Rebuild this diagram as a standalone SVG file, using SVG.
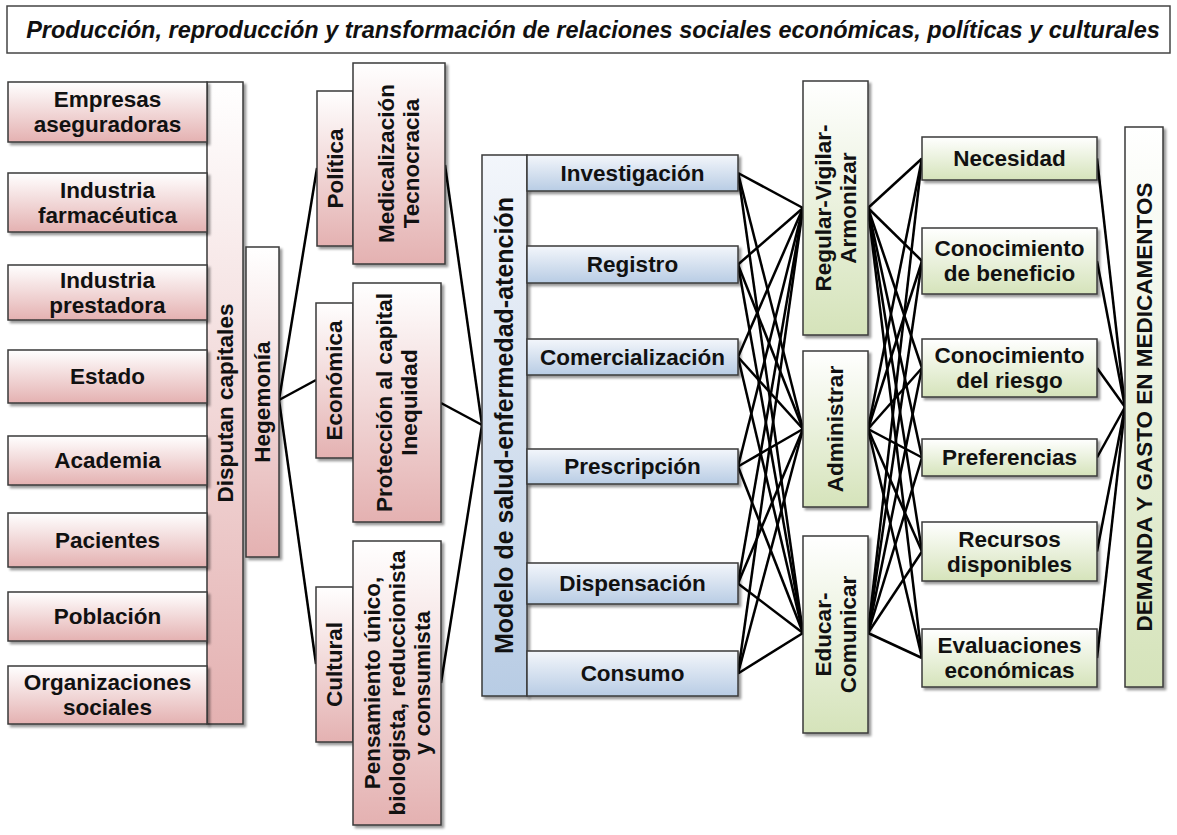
<svg xmlns="http://www.w3.org/2000/svg" width="1177" height="835" viewBox="0 0 1177 835">
  <defs>
    <linearGradient id="gPink" x1="0" y1="0" x2="0" y2="1">
      <stop offset="0" stop-color="#ffffff"/>
      <stop offset="1" stop-color="#e4b1b1"/>
    </linearGradient>
    <linearGradient id="gBlue" x1="0" y1="0" x2="0" y2="1">
      <stop offset="0" stop-color="#f3f6fb"/>
      <stop offset="1" stop-color="#b8cce4"/>
    </linearGradient>
    <linearGradient id="gGreen" x1="0" y1="0" x2="0" y2="1">
      <stop offset="0" stop-color="#ffffff"/>
      <stop offset="1" stop-color="#d5e3ba"/>
    </linearGradient>
    <filter id="shadow" x="-10%" y="-10%" width="130%" height="130%">
      <feDropShadow dx="2.5" dy="2.5" stdDeviation="1.2" flood-color="#000" flood-opacity="0.4"/>
    </filter>
  </defs>
  <style>
    .box { stroke: #3a3a3a; stroke-width: 1.5; filter: url(#shadow); }
    .pink { fill: url(#gPink); }
    .blue { fill: url(#gBlue); }
    .green { fill: url(#gGreen); }
    .lbl { font-family: "Liberation Sans", Arial, sans-serif; font-weight: bold; font-size: 22.5px; fill: #111; text-anchor: middle; }
    .big { font-size: 25px; }
    .title { font-family: "Liberation Sans", Arial, sans-serif; font-weight: bold; font-style: italic; font-size: 23.5px; fill: #111; text-anchor: middle; }
    .conn line { stroke: #000; stroke-width: 2.5; }
  </style>

  <rect width="1177" height="835" fill="#ffffff"/>

  <!-- title bar -->
  <g id="title">
    <rect x="7" y="6" width="1163" height="47" fill="#ffffff" stroke="#444" stroke-width="1.5"/>
    <text class="title" x="593" y="38">Producción, reproducción y transformación de relaciones sociales económicas, políticas y culturales</text>
  </g>

  <!-- connectors -->
  <g id="connectors" class="conn">
    <!-- Hegemonía to the three dimensions -->
    <line x1="279" y1="400" x2="317" y2="168"/>
    <line x1="279" y1="400" x2="316" y2="380"/>
    <line x1="279" y1="400" x2="316" y2="664"/>
    <!-- dimensions to the health model -->
    <line x1="445" y1="165" x2="482" y2="425"/>
    <line x1="441" y1="403" x2="482" y2="425"/>
    <line x1="441" y1="683" x2="482" y2="425"/>
    <!-- stages to Regular-Vigilar-Armonizar -->
    <line x1="738" y1="173" x2="803" y2="208"/>
    <line x1="738" y1="264.5" x2="803" y2="208"/>
    <line x1="738" y1="357" x2="803" y2="208"/>
    <line x1="738" y1="466.5" x2="803" y2="208"/>
    <line x1="738" y1="583.5" x2="803" y2="208"/>
    <line x1="738" y1="673.5" x2="803" y2="208"/>
    <!-- stages to Administrar -->
    <line x1="738" y1="173" x2="803" y2="429"/>
    <line x1="738" y1="264.5" x2="803" y2="429"/>
    <line x1="738" y1="357" x2="803" y2="429"/>
    <line x1="738" y1="466.5" x2="803" y2="429"/>
    <line x1="738" y1="583.5" x2="803" y2="429"/>
    <line x1="738" y1="673.5" x2="803" y2="429"/>
    <!-- stages to Educar-Comunicar -->
    <line x1="738" y1="173" x2="803" y2="633"/>
    <line x1="738" y1="264.5" x2="803" y2="633"/>
    <line x1="738" y1="357" x2="803" y2="633"/>
    <line x1="738" y1="466.5" x2="803" y2="633"/>
    <line x1="738" y1="583.5" x2="803" y2="633"/>
    <line x1="738" y1="673.5" x2="803" y2="633"/>
    <!-- Regular-Vigilar-Armonizar to factors -->
    <line x1="868" y1="208" x2="922" y2="158.5"/>
    <line x1="868" y1="208" x2="922" y2="261"/>
    <line x1="868" y1="208" x2="922" y2="368"/>
    <line x1="868" y1="208" x2="922" y2="457.5"/>
    <line x1="868" y1="208" x2="922" y2="551.5"/>
    <line x1="868" y1="208" x2="922" y2="658"/>
    <!-- Administrar to factors -->
    <line x1="868" y1="429" x2="922" y2="158.5"/>
    <line x1="868" y1="429" x2="922" y2="261"/>
    <line x1="868" y1="429" x2="922" y2="368"/>
    <line x1="868" y1="429" x2="922" y2="457.5"/>
    <line x1="868" y1="429" x2="922" y2="551.5"/>
    <line x1="868" y1="429" x2="922" y2="658"/>
    <!-- Educar-Comunicar to factors -->
    <line x1="868" y1="633" x2="922" y2="158.5"/>
    <line x1="868" y1="633" x2="922" y2="261"/>
    <line x1="868" y1="633" x2="922" y2="368"/>
    <line x1="868" y1="633" x2="922" y2="457.5"/>
    <line x1="868" y1="633" x2="922" y2="551.5"/>
    <line x1="868" y1="633" x2="922" y2="658"/>
    <!-- factors to demand -->
    <line x1="1097" y1="158.5" x2="1125" y2="407"/>
    <line x1="1097" y1="261" x2="1125" y2="407"/>
    <line x1="1097" y1="368" x2="1125" y2="407"/>
    <line x1="1097" y1="457.5" x2="1125" y2="407"/>
    <line x1="1097" y1="551.5" x2="1125" y2="407"/>
    <line x1="1097" y1="658" x2="1125" y2="407"/>
  </g>

  <!-- actors -->
  <g id="disputan">
    <rect class="box pink" x="207" y="82" width="36" height="642"/>
    <text class="lbl" x="225" y="410.9" transform="rotate(-90 225 403)">Disputan capitales</text>
  </g>
  <g id="empresas">
    <rect class="box pink" x="8" y="82" width="199" height="60"/>
    <text class="lbl" x="107.5" y="107.4">Empresas<tspan x="107.5" dy="25">aseguradoras</tspan></text>
  </g>
  <g id="farmaceutica">
    <rect class="box pink" x="8" y="173" width="199" height="59"/>
    <text class="lbl" x="107.5" y="197.9">Industria<tspan x="107.5" dy="25">farmacéutica</tspan></text>
  </g>
  <g id="prestadora">
    <rect class="box pink" x="8" y="265" width="199" height="55"/>
    <text class="lbl" x="107.5" y="287.9">Industria<tspan x="107.5" dy="25">prestadora</tspan></text>
  </g>
  <g id="estado">
    <rect class="box pink" x="8" y="350" width="199" height="53"/>
    <text class="lbl" x="107.5" y="384.4">Estado</text>
  </g>
  <g id="academia">
    <rect class="box pink" x="8" y="436" width="199" height="49"/>
    <text class="lbl" x="107.5" y="468.4">Academia</text>
  </g>
  <g id="pacientes">
    <rect class="box pink" x="8" y="513" width="199" height="54"/>
    <text class="lbl" x="107.5" y="547.9">Pacientes</text>
  </g>
  <g id="poblacion">
    <rect class="box pink" x="8" y="592" width="199" height="49"/>
    <text class="lbl" x="107.5" y="624.4">Población</text>
  </g>
  <g id="organizaciones">
    <rect class="box pink" x="8" y="666" width="199" height="58"/>
    <text class="lbl" x="107.5" y="690.4">Organizaciones<tspan x="107.5" dy="25">sociales</tspan></text>
  </g>
  <g id="hegemonia">
    <rect class="box pink" x="246" y="247" width="33" height="310"/>
    <text class="lbl" x="262.5" y="409.9" transform="rotate(-90 262.5 402)">Hegemonía</text>
  </g>

  <!-- dimensions of hegemony -->
  <g id="politica">
    <rect class="box pink" x="317" y="91" width="36" height="155"/>
    <text class="lbl" x="335" y="176.4" transform="rotate(-90 335 168.5)">Política</text>
  </g>
  <g id="medicalizacion">
    <rect class="box pink" x="353" y="63" width="92" height="201"/>
    <text class="lbl" x="399" y="158.9" transform="rotate(-90 399 163.5)"><tspan x="399">Medicalización</tspan><tspan x="399" dy="25">Tecnocracia</tspan></text>
  </g>
  <g id="economica">
    <rect class="box pink" x="316" y="303" width="37" height="155"/>
    <text class="lbl" x="334.5" y="388.4" transform="rotate(-90 334.5 380.5)">Económica</text>
  </g>
  <g id="proteccion">
    <rect class="box pink" x="353" y="283" width="88" height="239"/>
    <text class="lbl" x="397" y="397.9" transform="rotate(-90 397 402.5)"><tspan x="397">Protección al capital</tspan><tspan x="397" dy="25">Inequidad</tspan></text>
  </g>
  <g id="cultural">
    <rect class="box pink" x="316" y="587" width="37" height="155"/>
    <text class="lbl" x="334.5" y="672.4" transform="rotate(-90 334.5 664.5)">Cultural</text>
  </g>
  <g id="pensamiento">
    <rect class="box pink" x="353" y="541" width="88" height="284"/>
    <text class="lbl" x="397" y="665.9" transform="rotate(-90 397 683)"><tspan x="397">Pensamiento único,</tspan><tspan x="397" dy="25">biologista, reduccionista</tspan><tspan x="397" dy="25">y consumista</tspan></text>
  </g>

  <!-- health model and its stages -->
  <g id="modelo">
    <rect class="box blue" x="482" y="155" width="45" height="541"/>
    <text class="lbl big" x="504.5" y="434" transform="rotate(-90 504.5 425.5)">Modelo de salud-enfermedad-atención</text>
  </g>
  <g id="investigacion">
    <rect class="box blue" x="527" y="155" width="211" height="36"/>
    <text class="lbl" x="632.5" y="180.9">Investigación</text>
  </g>
  <g id="registro">
    <rect class="box blue" x="527" y="246" width="211" height="37"/>
    <text class="lbl" x="632.5" y="272.4">Registro</text>
  </g>
  <g id="comercializacion">
    <rect class="box blue" x="527" y="339" width="211" height="36"/>
    <text class="lbl" x="632.5" y="364.9">Comercialización</text>
  </g>
  <g id="prescripcion">
    <rect class="box blue" x="527" y="449" width="211" height="35"/>
    <text class="lbl" x="632.5" y="474.4">Prescripción</text>
  </g>
  <g id="dispensacion">
    <rect class="box blue" x="527" y="563" width="211" height="41"/>
    <text class="lbl" x="632.5" y="591.4">Dispensación</text>
  </g>
  <g id="consumo">
    <rect class="box blue" x="527" y="651" width="211" height="45"/>
    <text class="lbl" x="632.5" y="681.4">Consumo</text>
  </g>

  <!-- state actions -->
  <g id="regular">
    <rect class="box green" x="803" y="81" width="65" height="254"/>
    <text class="lbl" x="835.5" y="203.4" transform="rotate(-90 835.5 208)"><tspan x="835.5">Regular-Vigilar-</tspan><tspan x="835.5" dy="25">Armonizar</tspan></text>
  </g>
  <g id="administrar">
    <rect class="box green" x="803" y="351" width="65" height="156"/>
    <text class="lbl" x="835.5" y="436.9" transform="rotate(-90 835.5 429)">Administrar</text>
  </g>
  <g id="educar">
    <rect class="box green" x="803" y="536" width="65" height="197"/>
    <text class="lbl" x="835.5" y="629.9" transform="rotate(-90 835.5 634.5)"><tspan x="835.5">Educar-</tspan><tspan x="835.5" dy="25">Comunicar</tspan></text>
  </g>

  <!-- demand factors -->
  <g id="necesidad">
    <rect class="box green" x="922" y="137" width="175" height="43"/>
    <text class="lbl" x="1009.5" y="166.4">Necesidad</text>
  </g>
  <g id="beneficio">
    <rect class="box green" x="922" y="228" width="175" height="66"/>
    <text class="lbl" x="1009.5" y="256.4">Conocimiento<tspan x="1009.5" dy="25">de beneficio</tspan></text>
  </g>
  <g id="riesgo">
    <rect class="box green" x="922" y="339" width="175" height="58"/>
    <text class="lbl" x="1009.5" y="363.4">Conocimiento<tspan x="1009.5" dy="25">del riesgo</tspan></text>
  </g>
  <g id="preferencias">
    <rect class="box green" x="922" y="439" width="175" height="37"/>
    <text class="lbl" x="1009.5" y="465.4">Preferencias</text>
  </g>
  <g id="recursos">
    <rect class="box green" x="922" y="522" width="175" height="59"/>
    <text class="lbl" x="1009.5" y="546.9">Recursos<tspan x="1009.5" dy="25">disponibles</tspan></text>
  </g>
  <g id="evaluaciones">
    <rect class="box green" x="922" y="629" width="175" height="58"/>
    <text class="lbl" x="1009.5" y="653.4">Evaluaciones<tspan x="1009.5" dy="25">económicas</tspan></text>
  </g>

  <!-- outcome -->
  <g id="demanda">
    <rect class="box green" x="1125" y="127" width="38" height="560"/>
    <text class="lbl" x="1144" y="414.9" transform="rotate(-90 1144 407)">DEMANDA Y GASTO EN MEDICAMENTOS</text>
  </g>
</svg>
